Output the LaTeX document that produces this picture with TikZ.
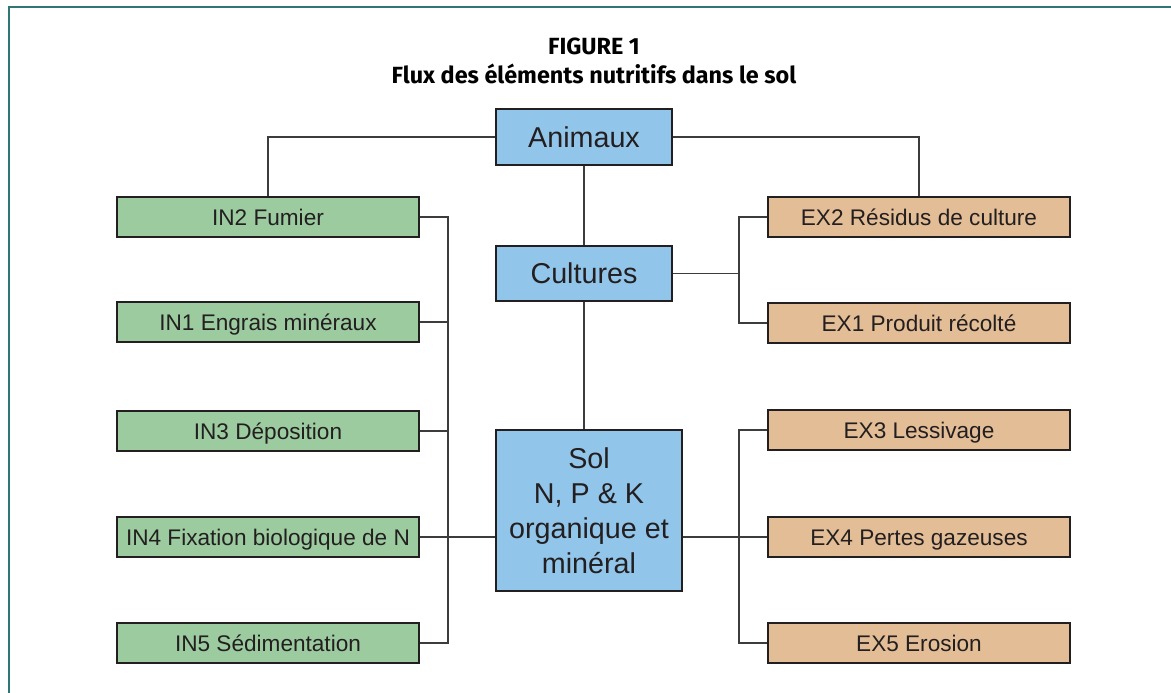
\documentclass[tikz,border=0pt]{standalone}
\usepackage{fontspec}
\setmainfont{Liberation Sans}
\newfontfamily\titlefont{Fira Sans}
\definecolor{framecol}{HTML}{2F7775}
\definecolor{bluefill}{HTML}{92C5EA}
\definecolor{greenfill}{HTML}{9CCBA0}
\definecolor{orangefill}{HTML}{E3BD96}
\definecolor{inkcol}{HTML}{231F20}
\definecolor{wirecol}{HTML}{3C3C3C}
\tikzset{
  box/.style={draw=inkcol, line width=1.4pt, text=inkcol, inner sep=0pt, align=center},
  centerbox/.style={box, fill=bluefill, font=\fontsize{28.7}{35}\selectfont},
  sidebox/.style={box, minimum width=302pt, minimum height=40pt, text height=16pt, text depth=0pt, font=\fontsize{22.6}{26}\selectfont},
  inbox/.style={sidebox, fill=greenfill},
  exbox/.style={sidebox, fill=orangefill},
  wire/.style={draw=wirecol, line width=1.2pt},
}
\begin{document}
\begin{tikzpicture}[x=1pt,y=-1pt]
\useasboundingbox (0,0) rectangle (1171,693);
% open frame
\draw[framecol, line width=2.5pt] (9,693) -- (9,7) -- (1171,7);
% title
\node[font=\titlefont\bfseries\fontsize{23.4}{29}\selectfont, align=center] (title) at (594,61)
  {FIGURE 1\\Flux des éléments nutritifs dans le sol};
% central column
\node[centerbox, minimum width=176pt, minimum height=56pt] (anim) at (584,137) {Animaux};
\node[centerbox, minimum width=176pt, minimum height=55pt] (cult) at (584,273.5) {Cultures};
\node[centerbox, minimum width=186pt, minimum height=161pt] (sol) at (589,510.5)
  {Sol\\N, P \& K\\organique et\\minéral};
% inputs
\node[inbox] (in2) at (268,217) {IN2 Fumier};
\node[inbox] (in1) at (268,322) {IN1 Engrais minéraux};
\node[inbox] (in3) at (268,431) {IN3 Déposition};
\node[inbox] (in4) at (268,537) {IN4 Fixation biologique de N};
\node[inbox] (in5) at (268,643) {IN5 Sédimentation};
% exports
\node[exbox] (ex2) at (919,217) {EX2 Résidus de culture};
\node[exbox] (ex1) at (919,323) {EX1 Produit récolté};
\node[exbox] (ex3) at (919,430) {EX3 Lessivage};
\node[exbox] (ex4) at (919,537) {EX4 Pertes gazeuses};
\node[exbox] (ex5) at (919,643) {EX5 Erosion};
% bus lines
\coordinate (lbus) at (448,0);
\coordinate (rbus) at (739,0);
% connectors of the central column
\draw[wire] (anim.west) -| (in2.north);
\draw[wire] (anim.east) -| (ex2.north);
\draw[wire] (anim.south) -- (cult.north);
\draw[wire] (cult.south) -- (cult.south |- sol.north);
% input bus
\draw[wire] (in2.east) -- (in2.east -| lbus) -- (in5.east -| lbus) -- (in5.east);
\draw[wire] (in1.east) -- (in1.east -| lbus);
\draw[wire] (in3.east) -- (in3.east -| lbus);
\draw[wire] (in4.east) -- (in4.east -| sol.west);
% harvest bus
\draw[wire] (ex2.west) -- (ex2.west -| rbus) -- (ex1.west -| rbus) -- (ex1.west);
\draw[wire] (cult.east) -- (cult.east -| rbus);
% loss bus
\draw[wire] (ex3.west) -- (ex3.west -| rbus) -- (ex5.west -| rbus) -- (ex5.west);
\draw[wire] (ex4.west -| sol.east) -- (ex4.west);
\end{tikzpicture}
\end{document}
